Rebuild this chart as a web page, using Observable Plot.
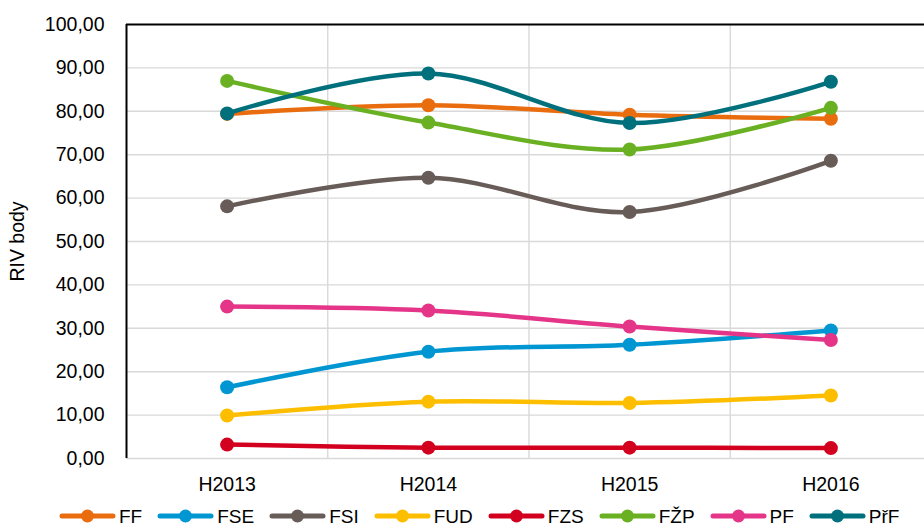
<!DOCTYPE html>
<html>
<head>
<meta charset="utf-8">
<script src="https://cdn.jsdelivr.net/npm/d3@7"></script>
<script src="https://cdn.jsdelivr.net/npm/@observablehq/plot@0.6"></script>
<style>
  html, body { margin: 0; padding: 0; background: #fff; }
  body { width: 924px; height: 529px; overflow: hidden; font-family: "Liberation Sans", Arial, sans-serif; }
  #legend { display: flex; align-items: center; height: 26px; padding-left: 59px; font-size: 19px; color: #000; white-space: nowrap; }
  .item { display: flex; align-items: center; margin-right: 15px; }
  .item span { margin-left: 3px; line-height: 1; }
</style>
</head>
<body>
<div id="chart"></div>
<div id="legend"></div>
<script>
const categories = ["H2013", "H2014", "H2015", "H2016"];
const seriesNames = ["FF", "FSE", "FSI", "FUD", "FZS", "FŽP", "PF", "PřF"];
const seriesColors = ["#E96C0E", "#0096D2", "#675C58", "#FDBE00", "#D2001E", "#6AB023", "#E53589", "#00707C"];
const FF  = [79.4, 81.4, 79.2, 78.3];
const FSE = [16.4, 24.6, 26.2, 29.5];
const FSI = [58.1, 64.7, 56.8, 68.6];
const FUD = [9.9, 13.1, 12.8, 14.5];
const FZS = [3.2, 2.5, 2.5, 2.4];
const FZP = [87.0, 77.4, 71.2, 80.8];
const PF  = [35.0, 34.1, 30.4, 27.3];
const PrF = [79.5, 88.7, 77.3, 86.8];
const seriesValues = [FF, FSE, FSI, FUD, FZS, FZP, PF, PrF];
const yTicks = [0, 10, 20, 30, 40, 50, 60, 70, 80, 90, 100];

const fontFamily = '"Liberation Sans", Arial, sans-serif';
const n = categories.length;
const idx = d3.range(n);
const fmt = d => d.toFixed(2).replace(".", ",");

const seriesMarks = [];
seriesNames.forEach((name, s) => {
  const data = idx.map(i => ({i, v: seriesValues[s][i]}));
  seriesMarks.push(Plot.line(data, {x: "i", y: "v", stroke: seriesColors[s], strokeWidth: 4.5, curve: "cardinal", tension: 0}));
  seriesMarks.push(Plot.dot(data, {x: "i", y: "v", fill: seriesColors[s], r: 7, stroke: "none"}));
});

const chart = Plot.plot({
  width: 924,
  height: 503,
  marginLeft: 126,
  marginRight: 0,
  marginTop: 24,
  marginBottom: 45,
  style: {fontFamily, fontSize: "19.5px", color: "#000", background: "#fff"},
  x: {domain: [-0.5, n - 0.5], range: [126, 931]},
  y: {domain: [0, 100]},
  marks: [
    Plot.ruleY(yTicks.filter(t => t < 100), {stroke: "#d9d9d9", strokeWidth: 1.4}),
    Plot.ruleX(d3.range(1, n).map(i => i - 0.5), {y1: 0, y2: 100, stroke: "#d9d9d9", strokeWidth: 1.4}),
    Plot.ruleY([100], {stroke: "#000", strokeWidth: 2}),
    Plot.ruleX([-0.5], {y1: 0, y2: 100, stroke: "#000", strokeWidth: 2}),
    Plot.axisY({ticks: yTicks, tickFormat: fmt, tickSize: 0, tickPadding: 22, label: "RIV body", labelAnchor: "center", labelOffset: 116, labelArrow: "none", fontSize: 19.5}),
    Plot.axisX({ticks: idx, tickFormat: i => categories[i], tickSize: 0, tickPadding: 19, label: null, fontSize: 19.5}),
    ...seriesMarks
  ]
});
document.getElementById("chart").appendChild(chart);

const legend = document.getElementById("legend");
seriesNames.forEach((name, s) => {
  const item = document.createElement("div");
  item.className = "item";
  const c = seriesColors[s];
  item.innerHTML = `<svg width="57" height="16"><line x1="3" y1="8" x2="54" y2="8" stroke="${c}" stroke-width="5" stroke-linecap="round"/><circle cx="28.5" cy="8" r="6.5" fill="${c}"/></svg><span>${name}</span>`;
  legend.appendChild(item);
});
</script>
</body>
</html>
